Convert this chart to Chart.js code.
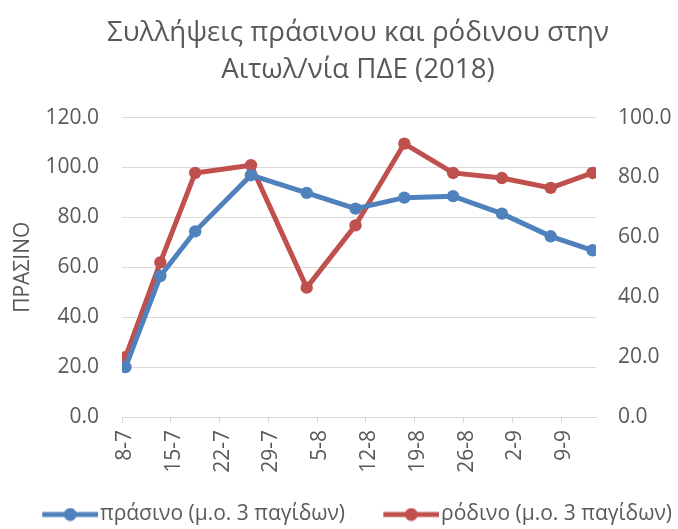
<!DOCTYPE html>
<html>
<head>
<meta charset="utf-8">
<script src="https://cdn.jsdelivr.net/npm/chart.js@4"></script>
<style>
  html, body { margin: 0; padding: 0; background: #fff; }
  #wrap { width: 678px; height: 529px; }
</style>
</head>
<body>
<div id="wrap"><canvas id="c" width="678" height="529"></canvas></div>
<script>
// ---- data ----
const titleLines = ['Συλλήψεις πράσινου και ρόδινου στην', 'Αιτωλ/νία ΠΔΕ (2018)'];
const dates = ['2018-07-08','2018-07-13','2018-07-18','2018-07-26','2018-08-03','2018-08-10','2018-08-17','2018-08-24','2018-08-31','2018-09-07','2018-09-13'];
const prasino = [20.0, 56.5, 74.4, 96.9, 89.8, 83.5, 87.9, 88.5, 81.5, 72.4, 66.8];
const rodino  = [20.0, 51.6, 81.5, 84.1, 43.2, 64.0, 91.3, 81.5, 79.8, 76.5, 81.5];
const tickLabels = ['8-7','15-7','22-7','29-7','5-8','12-8','19-8','26-8','2-9','9-9'];
const axisStart = '2018-07-08';
const axisEnd = '2018-09-14';
const seriesNames = ['πράσινο (μ.ο. 3 παγίδων)', 'ρόδινο (μ.ο. 3 παγίδων)'];
const yTitle = 'ΠΡΑΣΙΝΟ';

// ---- helpers ----
const DAY = 86400000;
function dayOf(s) { const [y,m,d] = s.split('-').map(Number); return Date.UTC(y, m-1, d) / DAY; }
const d0 = dayOf(axisStart);
const xMax = dayOf(axisEnd) - d0;
// points sit in the middle of their day (date axis, between tick marks)
const xs = dates.map(s => dayOf(s) - d0 + 0.5);

const BLUE = '#4f81bd', RED = '#c0504d', TXT = '#595959', GRID = '#d9d9d9';
const FONT = "'Open Sans', sans-serif";
const PAD_BOTTOM = -6, PLOT_BOTTOM = 417, TITLE_SHIFT = 38;
const LEG_BOX = 83.5, LEG_FONT = 21;

// legend icon: line with a marker, sitting in the right part of an image centred on the legend box
function legendIcon(color) {
  const iconW = 56;
  const W = 2 * (LEG_BOX / 2 + LEG_FONT / 2 - 2);
  const c = document.createElement('canvas');
  c.width = Math.round(W); c.height = 14;
  const g = c.getContext('2d');
  const x1 = c.width, x0 = x1 - iconW;
  g.strokeStyle = color; g.lineWidth = 5; g.lineCap = 'butt';
  g.beginPath(); g.moveTo(x0, 7); g.lineTo(x1, 7); g.stroke();
  g.fillStyle = color; g.beginPath(); g.arc((x0 + x1) / 2, 7, 6.5, 0, Math.PI*2); g.fill();
  return c;
}
const icons = [legendIcon(BLUE), legendIcon(RED)];

const shiftTitle = {
  id: 'shiftTitle',
  afterLayout(chart) { if (chart.titleBlock) chart.titleBlock.left = TITLE_SHIFT; }
};

new Chart(document.getElementById('c'), {
  type: 'line',
  plugins: [shiftTitle],
  data: {
    datasets: [
      { label: seriesNames[0], data: xs.map((x,i)=>({x, y: prasino[i]})), yAxisID: 'y',
        borderColor: BLUE, backgroundColor: BLUE, borderWidth: 5, pointRadius: 6.2, pointBorderWidth: 0,
        pointBackgroundColor: BLUE, tension: 0 },
      { label: seriesNames[1], data: xs.map((x,i)=>({x, y: rodino[i]})), yAxisID: 'y1',
        borderColor: RED, backgroundColor: RED, borderWidth: 5, pointRadius: 6.2, pointBorderWidth: 0,
        pointBackgroundColor: RED, tension: 0 }
    ]
  },
  options: {
    responsive: false,
    animation: false,
    layout: { padding: { left: 0, right: 0, top: 0, bottom: PAD_BOTTOM } },
    plugins: {
      tooltip: { enabled: false },
      title: {
        display: true, text: titleLines, color: TXT,
        font: { family: FONT, size: 27.7, weight: 'normal', lineHeight: 1.34 },
        padding: { top: 14.5, bottom: 28.8 }
      },
      legend: {
        position: 'bottom',
        labels: {
          color: TXT, font: { family: FONT, size: LEG_FONT },
          usePointStyle: true, pointStyleWidth: LEG_BOX, padding: 2, boxHeight: 14,
          generateLabels(chart) {
            const items = Chart.defaults.plugins.legend.labels.generateLabels(chart);
            items.forEach((it, i) => { it.pointStyle = icons[i]; });
            return items;
          }
        }
      }
    },
    scales: {
      x: {
        type: 'linear', min: 0, max: xMax,
        afterBuildTicks(scale) { scale.ticks = tickLabels.map((_, i) => ({ value: i * 7 })); },
        afterFit(scale) {
          const lg = scale.chart.legend;
          scale.height = scale.chart.height - PAD_BOTTOM - (lg ? lg.height : 0) - PLOT_BOTTOM;
        },
        ticks: {
          color: TXT, font: { family: FONT, size: 21 },
          minRotation: 90, maxRotation: 90, autoSkip: false, padding: 7, labelOffset: 3,
          callback(v, i) { return tickLabels[i]; }
        },
        grid: { display: true, drawOnChartArea: false, drawTicks: true, tickLength: 6, color: GRID },
        border: { display: true, color: GRID, width: 1 }
      },
      y: {
        position: 'left', min: 0, max: 120,
        afterFit(scale) { scale.width = 122; },
        ticks: { stepSize: 20, color: TXT, font: { family: FONT, size: 21 }, padding: 23,
          callback(v) { return v.toFixed(1); } },
        grid: { color: GRID, lineWidth: 1, drawTicks: false },
        border: { display: false },
        title: { display: true, text: yTitle, color: TXT, font: { family: FONT, size: 21 }, padding: { top: 10, bottom: 0 } }
      },
      y1: {
        position: 'right', min: 0, max: 100,
        afterFit(scale) { scale.width = 82; },
        ticks: { stepSize: 20, color: TXT, font: { family: FONT, size: 21 }, padding: 22,
          callback(v) { return v.toFixed(1); } },
        grid: { drawOnChartArea: false, drawTicks: false },
        border: { display: false }
      }
    }
  }
});
</script>
</body>
</html>
